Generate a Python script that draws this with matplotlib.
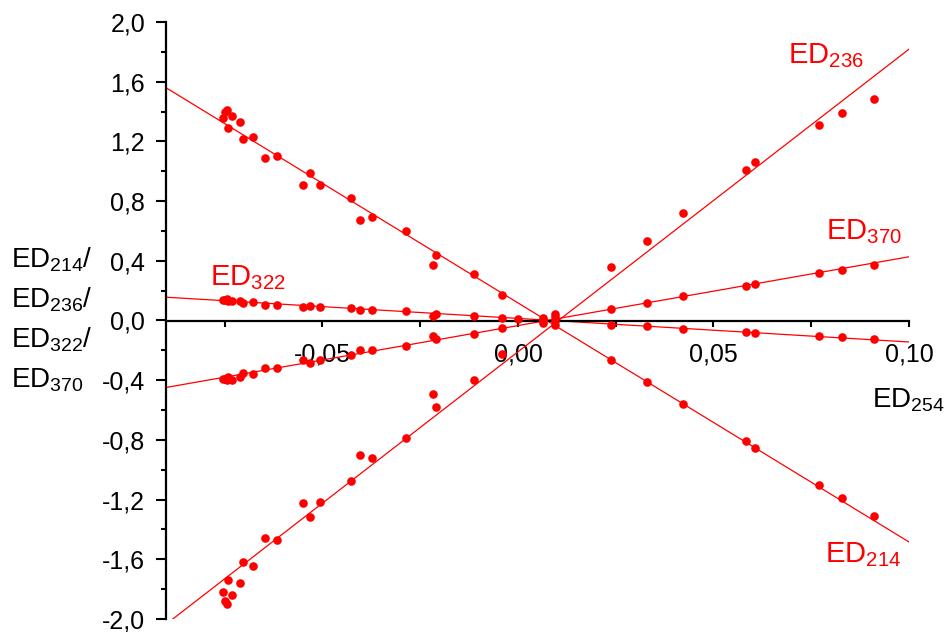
import numpy as np
import matplotlib
matplotlib.use("Agg")
import matplotlib.pyplot as plt
from matplotlib.ticker import MultipleLocator, FuncFormatter

plt.rcParams['font.family'] = ['Liberation Sans', 'DejaVu Sans']
plt.rcParams['mathtext.fontset'] = 'custom'
plt.rcParams['mathtext.rm'] = 'Liberation Sans'
plt.rcParams['mathtext.it'] = 'Liberation Sans:italic'
plt.rcParams['mathtext.bf'] = 'Liberation Sans:bold'

nan = np.nan
x_ed254 = [-0.0754, -0.0749, -0.0745, -0.0742, -0.0730, -0.0711, -0.0703, -0.0677,
           -0.0647, -0.0616, -0.0549, -0.0532, -0.0506, -0.0427, -0.0404, -0.0373,
           -0.0286, -0.0218, -0.0210, -0.0113, -0.0042, 0.0000, 0.0063, 0.0095,
           0.0237, 0.0331, 0.0421, 0.0583, 0.0605, 0.0770, 0.0828, 0.0911]

ed214 = [1.356, 1.400, 1.410, 1.287, 1.371, 1.331, 1.216, 1.229, 1.087, 1.102,
         0.909, 0.989, 0.911, 0.820, 0.676, 0.691, 0.598, 0.371, 0.442, 0.311,
         0.173, nan, 0.020, -0.033, -0.267, -0.411, -0.560, -0.809, -0.853,
         -1.102, -1.191, -1.311]
ed236 = [-1.818, -1.878, -1.900, -1.738, -1.840, -1.760, -1.618, -1.644, -1.456,
         -1.471, -1.222, -1.316, -1.218, -1.078, -0.904, -0.918, -0.784, -0.491,
         -0.580, -0.400, -0.222, nan, -0.015, 0.044, 0.356, 0.533, 0.718, 1.007,
         1.060, 1.309, 1.389, 1.484]
ed322 = [0.138, 0.140, 0.144, 0.129, 0.133, 0.133, 0.118, 0.124, 0.107, 0.107,
         0.089, 0.096, 0.091, 0.082, 0.069, 0.071, 0.062, 0.031, 0.044, 0.029,
         0.018, 0.009, 0.005, 0.000, -0.027, -0.040, -0.056, -0.078, -0.082,
         -0.102, -0.113, -0.127]
ed370 = [-0.389, -0.395, -0.400, -0.378, -0.396, -0.378, -0.351, -0.356, -0.316,
         -0.318, -0.267, -0.282, -0.267, -0.233, -0.200, -0.200, -0.171, -0.107,
         -0.122, -0.089, -0.049, nan, -0.005, 0.022, 0.078, 0.118, 0.162, 0.233,
         0.244, 0.318, 0.340, 0.373]

series_names = ['214', '236', '322', '370']
fit_slope = [-16.02, 20.28, -1.58, 4.61]
fit_intercept = [0.118, -0.210, 0.014, -0.034]

W, H = 951, 632
fig = plt.figure(figsize=(W / 100, H / 100), dpi=100)
ax = fig.add_axes([166 / W, 1 - 619 / H, (909 - 166) / W, (619 - 22) / H])

red = '#ff0000'
x = np.array(x_ed254)
for vals in (ed214, ed236, ed322, ed370):
    ax.plot(x, np.array(vals), 'o', color=red, markersize=6.2,
            markeredgewidth=0, zorder=3, clip_on=False)

xl = np.array([-0.09, 0.10])
for s, b in zip(fit_slope, fit_intercept):
    ax.plot(xl, s * xl + b, '-', color=red, lw=0.9, zorder=2)

ax.set_xlim(-0.09, 0.10)
ax.set_ylim(-2.0, 2.0)

ax.spines['top'].set_visible(False)
ax.spines['right'].set_visible(False)
ax.spines['bottom'].set_position(('data', 0))
ax.spines['left'].set_linewidth(1.6)
ax.spines['bottom'].set_linewidth(1.6)

ax.xaxis.set_major_locator(MultipleLocator(0.05))
ax.xaxis.set_minor_locator(MultipleLocator(0.025))
ax.yaxis.set_major_locator(MultipleLocator(0.4))
ax.yaxis.set_minor_locator(MultipleLocator(0.2))

def fmt_x(v, pos):
    s = f"{v:.2f}"
    if s == "-0.00":
        s = "0.00"
    return s.replace('.', ',')

def fmt_y(v, pos):
    s = f"{v:.1f}"
    if s == "-0.0":
        s = "0.0"
    return s.replace('.', ',')

ax.xaxis.set_major_formatter(FuncFormatter(fmt_x))
ax.yaxis.set_major_formatter(FuncFormatter(fmt_y))

ax.tick_params(axis='x', which='both', direction='out', length=4.5, width=1.5,
               pad=11, labelsize=18)
ax.tick_params(axis='y', which='major', direction='out', length=7, width=1.5,
               pad=8, labelsize=18)
ax.tick_params(axis='y', which='minor', direction='out', length=3.8, width=1.5)

def ftext(px, py, s, color='black', size=20):
    fig.text(px / W, 1 - py / H, s, color=color, fontsize=size,
             ha='left', va='baseline')

# axis labels
ftext(872, 407, r'ED$_{\mathregular{254}}$')
ftext(11, 268, r'ED$_{\mathregular{214}}$/')
ftext(11, 308, r'ED$_{\mathregular{236}}$/')
ftext(11, 347, r'ED$_{\mathregular{322}}$/')
ftext(11, 387, r'ED$_{\mathregular{370}}$')

# series annotations
ftext(788, 63, r'ED$_{\mathregular{236}}$', color=red, size=21)
ftext(826, 239, r'ED$_{\mathregular{370}}$', color=red, size=21)
ftext(825, 562, r'ED$_{\mathregular{214}}$', color=red, size=21)
ftext(210, 285, r'ED$_{\mathregular{322}}$', color=red, size=21)

fig.savefig('out.png', dpi=100)
